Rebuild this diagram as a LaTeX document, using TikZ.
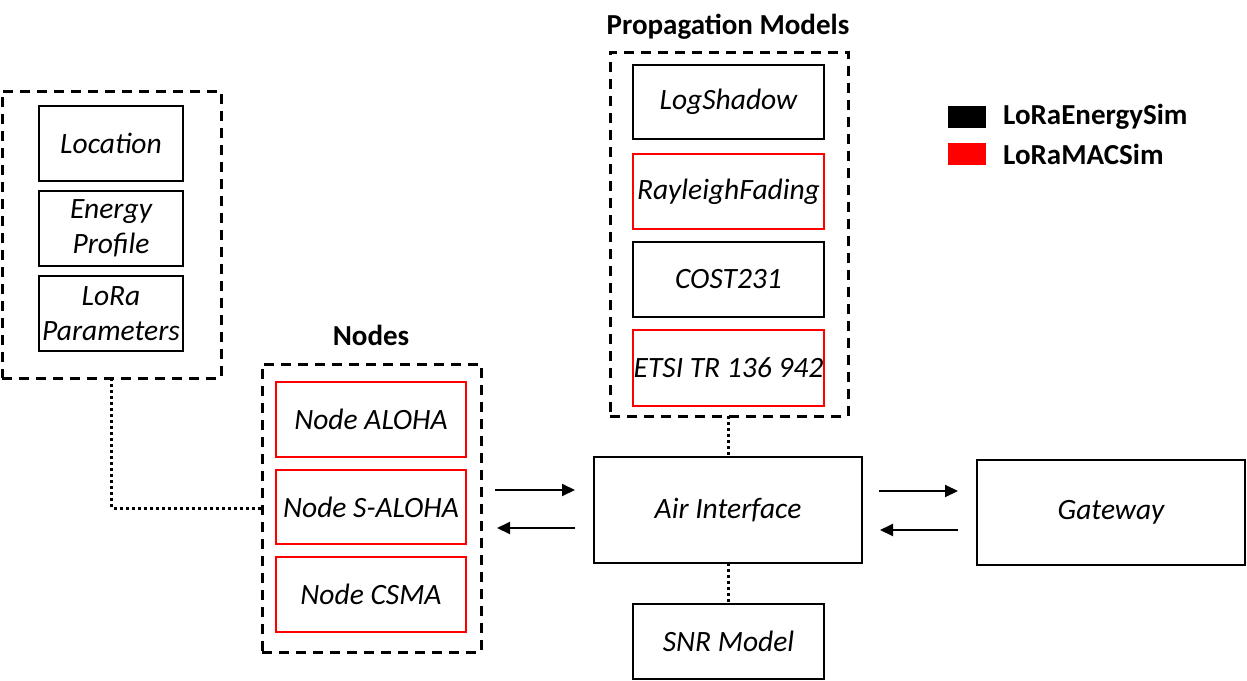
\documentclass[tikz,border=0pt]{standalone}
\usepackage{fontspec}
\setmainfont{Carlito}
\usetikzlibrary{arrows.meta}
\begin{document}
\begin{tikzpicture}[x=1pt,y=-1pt,
  box/.style={draw=black,line width=2pt,inner sep=0pt,outer sep=0pt,align=center,
    font=\fontsize{29.5}{35}\selectfont\itshape},
  rbox/.style={box,draw=red},
  grp/.style={draw=black,line width=3pt,dash pattern=on 10pt off 7pt,inner sep=0pt,outer sep=0pt},
  title/.style={font=\fontsize{29}{34}\selectfont\bfseries,inner sep=0pt},
  dotline/.style={line width=3pt,dash pattern=on 3pt off 3pt},
  arr/.style={line width=2pt,-{Triangle[length=13pt,width=12pt]}},
  leg/.style={inner sep=0pt,outer sep=0pt,minimum width=38pt,minimum height=22pt}
]
\useasboundingbox (0,0) rectangle (1247,680);

% groups
\node[grp,minimum width=219pt,minimum height=287pt] (lgrp) at (111.5,234.5) {};
\node[grp,minimum width=219pt,minimum height=288pt] (ngrp) at (371.5,508) {};
\node[grp,minimum width=238pt,minimum height=364pt] (pgrp) at (729,234) {};

\node[title] (ntitle) at (371,335) {Nodes};
\node[title] (ptitle) at (728,27) {Propagation Models};

% left group
\node[box,minimum width=144pt,minimum height=75pt] (loc) at (111,143.5) {Location};
\node[box,minimum width=144pt,minimum height=75pt] (energy) at (111,228.5) {Energy\\Profile};
\node[box,minimum width=144pt,minimum height=75pt] (lora) at (111,313.5) {LoRa\\Parameters};

% nodes
\node[rbox,minimum width=190pt,minimum height=75pt] (aloha) at (371,419.5) {Node ALOHA};
\node[rbox,minimum width=190pt,minimum height=74pt] (saloha) at (371,507) {Node S-ALOHA};
\node[rbox,minimum width=190pt,minimum height=75pt] (csma) at (371,594.5) {Node CSMA};

% propagation
\node[box,minimum width=191pt,minimum height=74pt] (logsh) at (728.5,102) {LogShadow};
\node[rbox,minimum width=191pt,minimum height=75pt] (ray) at (728.5,191.5) {RayleighFading};
\node[box,minimum width=191pt,minimum height=75pt] (cost) at (728.5,279.5) {COST231};
\node[rbox,minimum width=191pt,minimum height=76pt] (etsi) at (728.5,368) {ETSI TR 136 942};

% air, snr, gateway
\node[box,minimum width=268pt,minimum height=106pt] (air) at (728,510) {Air Interface};
\node[box,minimum width=191pt,minimum height=75pt] (snr) at (728.5,641.5) {SNR Model};
\node[box,minimum width=268pt,minimum height=105pt] (gw) at (1111,512.5) {Gateway};

% legend
\node[leg,fill=black] (lblack) at (967,117) {};
\node[leg,fill=red] (lred) at (967,153.5) {};
\node[title,anchor=west] (ltxt1) at (1003,117) {LoRaEnergySim};
\node[title,anchor=west] (ltxt2) at (1003,154) {LoRaMACSim};

% dotted connectors
\draw[dotline] (lgrp.south) |- (ngrp.west);
\draw[dotline] (pgrp.south -| air.north) -- (air.north);
\draw[dotline] (air.south) -- (snr.north -| air.south);

% arrows
\draw[arr,shorten <=14pt,shorten >=19pt] ([yshift=18pt]ngrp.east) -- ([yshift=18pt]ngrp.east -| air.west);
\draw[arr,shorten <=19pt,shorten >=16pt] ([yshift=-20pt]ngrp.east -| air.west) -- ([yshift=-20pt]ngrp.east);
\draw[arr,shorten <=17pt,shorten >=19pt] ([yshift=19pt]air.east) -- ([yshift=19pt]air.east -| gw.west);
\draw[arr,shorten <=19pt,shorten >=18pt] ([yshift=-20pt]air.east -| gw.west) -- ([yshift=-20pt]air.east);
\end{tikzpicture}
\end{document}
